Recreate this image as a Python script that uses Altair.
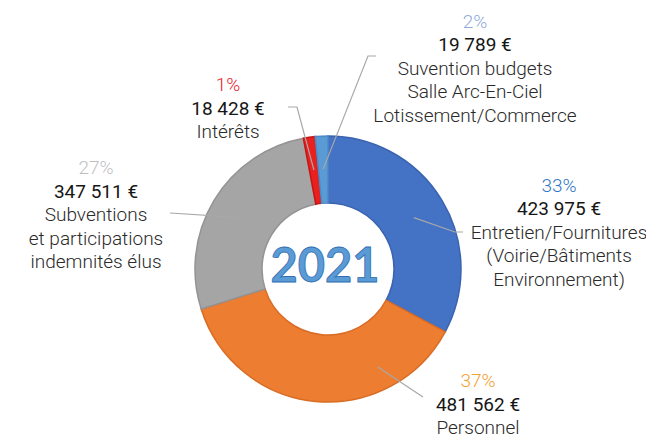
import math
import altair as alt
import pandas as pd

# ---------------- data ----------------
categories = ["Entretien/Fournitures", "Personnel", "Subventions", "Intérêts", "Suvention budgets"]
values = [423975, 481562, 347511, 18428, 19789]
pct_labels = ["33%", "37%", "27%", "1%", "2%"]
amount_labels = ["423 975 €", "481 562 €", "347 511 €", "18 428 €", "19 789 €"]
label_lines = [
    ["Entretien/Fournitures", "(Voirie/Bâtiments", "Environnement)"],
    ["Personnel"],
    ["Subventions", "et participations", "indemnités élus"],
    ["Intérêts"],
    ["Suvention budgets", "Salle Arc-En-Ciel", "Lotissement/Commerce"],
]
year_label = "2021"

# ---------------- styles ----------------
seg_colors = ["#4472C4", "#ED7D31", "#A5A5A5", "#E8201E", "#5B9BD5"]
seg_edges = ["#3A63B0", "#D86C24", "#939393", "#C81414", "#4C8AC4"]
pct_colors = ["#2E75C6", "#F5A033", "#BFBFBF", "#E8262A", "#8FAADC"]
FONT = "Roboto"

# ---------------- layout (plot pixels) ----------------
W, H = 638, 432
CX, CY = 320, 261
R_OUT, R_IN = 133, 66
label_x = [551, 470, 88, 220, 467]
label_y = [177.5, 373, 160, 77, 13.5]
LINE_STEP = 23.5
leader_frac = [0.5, 0.26, 0.5, 0.5, 0.5]
leader_r = [100, 110, 100, 100, 100]
leader_rest = [
    [(447, 224), (455, 224)],
    [(415, 389)],
    [(162, 205)],
    [(289, 99), (280, 99)],
    [(360, 48), (368, 48)],
]

xs = alt.Scale(domain=[0, W], nice=False, zero=False)
ys = alt.Scale(domain=[0, H], nice=False, zero=False, reverse=True)

# ---------------- donut ----------------
seg_df = pd.DataFrame({"cat": categories, "value": values, "idx": list(range(len(values)))})
donut = alt.Chart(seg_df).mark_arc(radius=R_OUT, radius2=R_IN, strokeWidth=1.5).encode(
    theta=alt.Theta("value:Q", stack=True),
    order=alt.Order("idx:Q"),
    color=alt.Color("cat:N", scale=alt.Scale(domain=categories, range=seg_colors), legend=None),
    stroke=alt.Stroke("cat:N", scale=alt.Scale(domain=categories, range=seg_edges), legend=None),
    x=alt.value(CX),
    y=alt.value(CY),
)

# ---------------- leader lines ----------------
total = sum(values)
rows = []
cum = 0
for i, v in enumerate(values):
    ang = (cum + leader_frac[i] * v) / total * 2 * math.pi
    cum += v
    pts = [(CX + leader_r[i] * math.sin(ang), CY - leader_r[i] * math.cos(ang))] + leader_rest[i]
    for k, (px, py) in enumerate(pts):
        rows.append({"cat": categories[i], "k": k, "px": px, "py": py})
lead_df = pd.DataFrame(rows)
leaders = alt.Chart(lead_df).mark_line(color="#A8A8A8", strokeWidth=1.2).encode(
    x=alt.X("px:Q", scale=xs, axis=None),
    y=alt.Y("py:Q", scale=ys, axis=None),
    detail="cat:N",
    order="k:Q",
)

# ---------------- texts ----------------
pct_df = pd.DataFrame({"t": pct_labels, "px": label_x, "py": label_y, "c": pct_colors})
amt_df = pd.DataFrame({"t": amount_labels, "px": label_x, "py": [y + LINE_STEP for y in label_y]})
lab_rows = []
for i, lines in enumerate(label_lines):
    for j, line in enumerate(lines):
        lab_rows.append({"t": line, "px": label_x[i], "py": label_y[i] + LINE_STEP * (2 + j)})
lab_df = pd.DataFrame(lab_rows)

pct_text = alt.Chart(pct_df).mark_text(font=FONT, fontSize=19, fontWeight=300, baseline="middle", align="center").encode(
    x=alt.X("px:Q", scale=xs, axis=None), y=alt.Y("py:Q", scale=ys, axis=None),
    text="t:N", color=alt.Color("c:N", scale=None),
)
amt_text = alt.Chart(amt_df).mark_text(font=FONT, fontSize=19, fontWeight=400, color="#161616", baseline="middle", align="center").encode(
    x=alt.X("px:Q", scale=xs, axis=None), y=alt.Y("py:Q", scale=ys, axis=None), text="t:N",
)
lab_text = alt.Chart(lab_df).mark_text(font=FONT, fontSize=19, fontWeight=300, color="#2A2A2A", baseline="middle", align="center").encode(
    x=alt.X("px:Q", scale=xs, axis=None), y=alt.Y("py:Q", scale=ys, axis=None), text="t:N",
)

# ---------------- center year ----------------
year_df = pd.DataFrame({"t": [year_label], "px": [317], "py": [259.5]})
year_text = alt.Chart(year_df).mark_text(font="Lato", fontSize=47, fontWeight="bold", color="#5B9BD5",
                                         stroke="#2F6DB0", strokeWidth=0.8, baseline="middle", align="center").encode(
    x=alt.X("px:Q", scale=xs, axis=None), y=alt.Y("py:Q", scale=ys, axis=None), text="t:N",
)

chart = alt.layer(donut, leaders, pct_text, amt_text, lab_text, year_text).properties(
    width=W, height=H, padding=0, autosize=alt.AutoSizeParams(type="none"), background="white"
).configure_view(stroke=None)

chart.save("out.html", embed_options={"renderer": "svg", "actions": False})
